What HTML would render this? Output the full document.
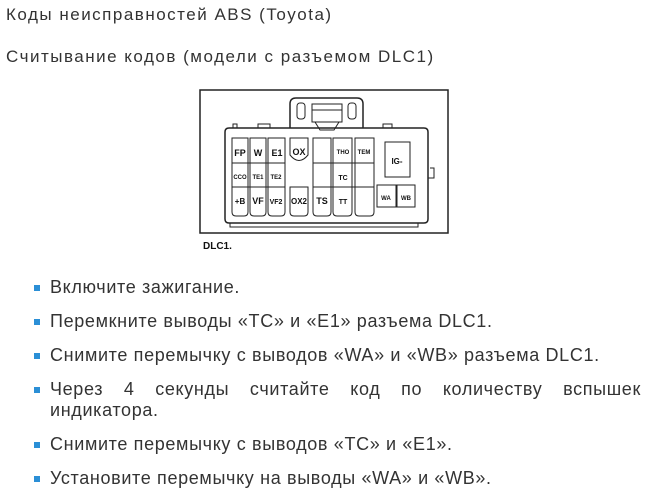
<!DOCTYPE html>
<html><head><meta charset="utf-8"><style>
body{margin:0;width:650px;height:502px;background:#fff;font-family:"Liberation Sans","DejaVu Sans",sans-serif;color:#333;position:relative;overflow:hidden}
.t{position:absolute;left:6px;font-size:17px;letter-spacing:1.5px;white-space:nowrap}
ul{position:absolute;left:0;top:277px;margin:0;padding:0;list-style:none;width:641px}
li{position:relative;padding-left:50px;font-size:18px;letter-spacing:0.65px;line-height:21px;margin-bottom:13px}
li:before{content:"";position:absolute;left:34px;top:8px;width:6px;height:6px;background:#2b8fd6}
.j{text-align:justify}
svg{position:absolute;left:0;top:0}
</style></head><body>
<div class="t" style="top:5px">Коды неисправностей ABS (Toyota)</div>
<div class="t" style="top:47px">Считывание кодов (модели с разъемом DLC1)</div>
<svg width="650" height="260" font-family="Liberation Sans, sans-serif" font-weight="bold" fill="none" stroke="#222">
<rect x="200" y="90" width="248" height="143" stroke-width="1.5"/>
<path d="M290 128 V104 Q290 98 296 98 H357 Q363 98 363 104 V128" stroke-width="1.5"/>
<rect x="297" y="103" width="8" height="16" rx="3"/><rect x="348" y="103" width="8" height="16" rx="3"/>
<rect x="312" y="104" width="30" height="18"/><path d="M312 110 H342 M315 122 L320 130 H334 L339 122"/>
<path d="M225 132 Q225 128 229 128 H424 Q428 128 428 132 V219 Q428 223 424 223 H229 Q225 223 225 219 Z" stroke-width="1.5"/>
<path d="M233 128 V124 H237 V128 M258 128 V124 H270 V128 M383 128 V124 H392 V128 M430 168 H434 V178 H428" />
<path d="M230 223 V227 H418 V223" />
<g stroke-width="1">
<path d="M232 138 H248 V212 Q248 216 244 216 H236 Q232 216 232 212 Z"/>
<path d="M250 138 H266 V212 Q266 216 262 216 H254 Q250 216 250 212 Z"/>
<path d="M268 138 H285 V212 Q285 216 281 216 H272 Q268 216 268 212 Z"/>
<path d="M290 138 H308 V155 Q299 166 290 155 Z"/>
<path d="M290 187 H308 V212 Q308 216 304 216 H294 Q290 216 290 212 Z"/>
<path d="M313 138 H331 V212 Q331 216 327 216 H317 Q313 216 313 212 Z"/>
<path d="M333 138 H352 V212 Q352 216 348 216 H337 Q333 216 333 212 Z"/>
<path d="M355 138 H374 V212 Q374 216 370 216 H359 Q355 216 355 212 Z"/>
<path d="M232 163 H285 M232 187 H285 M313 163 H374 M313 187 H374 M355 163 H374"/>
<rect x="385" y="142" width="25" height="35"/>
<rect x="377" y="185" width="19" height="22"/><rect x="397" y="185" width="18" height="22"/>
</g>
<g fill="#111" stroke="none" text-anchor="middle">
<text x="240" y="156" font-size="9">FP</text><text x="258" y="156" font-size="9">W</text><text x="277" y="156" font-size="9">E1</text>
<text x="299" y="155" font-size="9">OX</text>
<text x="343" y="154" font-size="6">THO</text><text x="364" y="154" font-size="6">TEM</text>
<text x="397" y="164" font-size="8">IG-</text>
<text x="240" y="179" font-size="6">CCO</text><text x="258" y="179" font-size="6">TE1</text><text x="276" y="179" font-size="6">TE2</text>
<text x="343" y="180" font-size="7">TC</text>
<text x="240" y="204" font-size="8">+B</text><text x="258" y="204" font-size="9">VF</text><text x="276" y="204" font-size="7">VF2</text>
<text x="299" y="204" font-size="8">OX2</text><text x="322" y="204" font-size="9">TS</text><text x="343" y="204" font-size="7">TT</text>
<text x="386" y="200" font-size="6">WA</text><text x="406" y="200" font-size="6">WB</text>
<text x="203" y="249" font-size="10" text-anchor="start">DLC1.</text>
</g>
</svg>
<ul>
<li>Включите зажигание.</li>
<li>Перемкните выводы «TC» и «E1» разъема DLC1.</li>
<li>Снимите перемычку с выводов «WA» и «WB» разъема DLC1.</li>
<li class="j">Через 4 секунды считайте код по количеству вспышек индикатора.</li>
<li>Снимите перемычку с выводов «TC» и «E1».</li>
<li>Установите перемычку на выводы «WA» и «WB».</li>
</ul>
</body></html>
